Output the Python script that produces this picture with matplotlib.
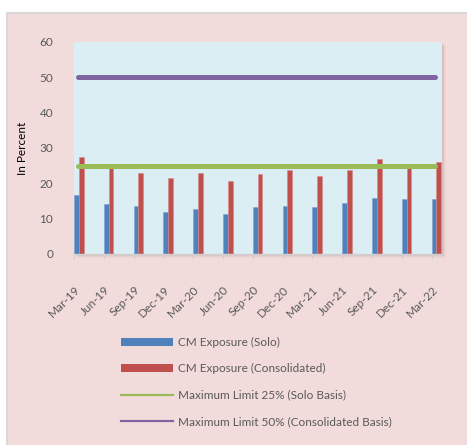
import matplotlib
matplotlib.use("Agg")
import matplotlib.pyplot as plt
import matplotlib.transforms as mtransforms
from matplotlib.patches import Rectangle
from matplotlib.lines import Line2D
import numpy as np

quarters = ["Mar-19", "Jun-19", "Sep-19", "Dec-19", "Mar-20", "Jun-20", "Sep-20",
            "Dec-20", "Mar-21", "Jun-21", "Sep-21", "Dec-21", "Mar-22"]
cm_solo = [16.6, 14.2, 13.6, 12.0, 12.7, 11.4, 13.3, 13.6, 13.2, 14.3, 15.9, 15.5, 15.6]
cm_consolidated = [27.4, 24.4, 23.0, 21.6, 22.8, 20.6, 22.7, 23.9, 22.2, 23.7, 26.9, 24.4, 26.0]
limit_solo = 25
limit_consolidated = 50

series_labels = ["CM Exposure (Solo)", "CM Exposure (Consolidated)",
                 "Maximum Limit 25% (Solo Basis)", "Maximum Limit 50% (Consolidated Basis)"]

BLUE = "#4F81BD"
RED = "#C0504D"
GREEN = "#9BBB59"
PURPLE = "#8064A2"
PINK = "#F2DCDB"
PLOT_BG = "#DBEEF4"
TEXT = "#595959"

plt.rcParams["font.family"] = ["Lato", "DejaVu Sans"]

W, H = 467, 445
fig = plt.figure(figsize=(W / 100, H / 100), dpi=100)
fig.patch.set_facecolor("white")

# chart frame: pink area with a grey border on top and left
fig.patches.append(Rectangle((8 / W, 0), 1 - 8 / W, (H - 13) / H, transform=fig.transFigure,
                             facecolor=PINK, edgecolor="none", zorder=0))
fig.patches.append(Rectangle((6 / W, 0), 2 / W, (H - 12) / H, transform=fig.transFigure,
                             facecolor="#D9D9D9", edgecolor="none", zorder=0))
fig.patches.append(Rectangle((6 / W, (H - 14) / H), 1 - 6 / W, 2 / H, transform=fig.transFigure,
                             facecolor="#D9D9D9", edgecolor="none", zorder=0))

ax_l, ax_r, ax_t, ax_b = 74, 442, 42, 254
ax = fig.add_axes([ax_l / W, (H - ax_b) / H, (ax_r - ax_l) / W, (ax_b - ax_t) / H])
ax.set_zorder(2)

# soft drop shadow under the plot area
for k, a in zip(range(1, 5), [0.10, 0.08, 0.06, 0.04]):
    fig.patches.append(Rectangle(((ax_l + k) / W, (H - ax_b - k) / H), (ax_r - ax_l) / W,
                                 (ax_b - ax_t) / H, transform=fig.transFigure,
                                 facecolor="#7F6060", alpha=a, edgecolor="none", zorder=0.5))

ax.set_facecolor(PLOT_BG)

x = np.arange(len(quarters))
bw = 0.16
ax.bar(x, cm_solo, width=bw, align="edge", color=BLUE, edgecolor="#7FA3D0", linewidth=0.4,
       label=series_labels[0], zorder=2)
ax.bar(x + bw, cm_consolidated, width=bw, align="edge", color=RED, edgecolor="#D88A88",
       linewidth=0.4, label=series_labels[1], zorder=2)

line_x = [x[0] + 0.12, x[-1] + 0.12]
ax.plot(line_x, [limit_solo] * 2, color=GREEN, lw=3.6, solid_capstyle="round", zorder=3,
        label=series_labels[2])
ax.plot(line_x, [limit_consolidated] * 2, color=PURPLE, lw=3.6, solid_capstyle="round", zorder=3,
        label=series_labels[3])

ax.set_xlim(0, 12.35)
ax.set_ylim(0, 60)
ax.set_yticks(range(0, 61, 10))
ax.set_xticks(x)
ax.set_xticklabels(quarters)

for s in ["top", "right", "left"]:
    ax.spines[s].set_visible(False)
ax.spines["bottom"].set_color("#D0D0D0")
ax.spines["bottom"].set_linewidth(1.0)

ax.tick_params(axis="y", length=0, pad=15, labelsize=8.5, labelcolor=TEXT)
ax.tick_params(axis="x", length=3.5, width=1.0, color="#D0D0D0", pad=18, labelsize=8.5,
               labelcolor=TEXT)
offset = mtransforms.ScaledTranslation(8 / 100, 0, fig.dpi_scale_trans)
for lbl in ax.get_xticklabels():
    lbl.set_rotation(45)
    lbl.set_ha("right")
    lbl.set_va("top")
    lbl.set_transform(lbl.get_transform() + offset)

ax.set_ylabel("In Percent", fontsize=8.5, color="black")
ax.yaxis.set_label_coords(-(ax_l - 28) / (ax_r - ax_l), 0.5)

handles = [Rectangle((0, 0), 1, 1, facecolor=BLUE, edgecolor="none"),
           Rectangle((0, 0), 1, 1, facecolor=RED, edgecolor="none"),
           Line2D([], [], color=GREEN, lw=1.6),
           Line2D([], [], color=PURPLE, lw=1.6)]
fig.legend(handles, series_labels, loc="upper left", bbox_to_anchor=(121 / W, (H - 337) / H),
           frameon=False, fontsize=8.5, labelcolor=TEXT, handlelength=4.4, handleheight=0.7,
           handletextpad=0.45, labelspacing=1.3, borderpad=0, borderaxespad=0)

fig.savefig("out.png", dpi=100, facecolor=fig.get_facecolor())
